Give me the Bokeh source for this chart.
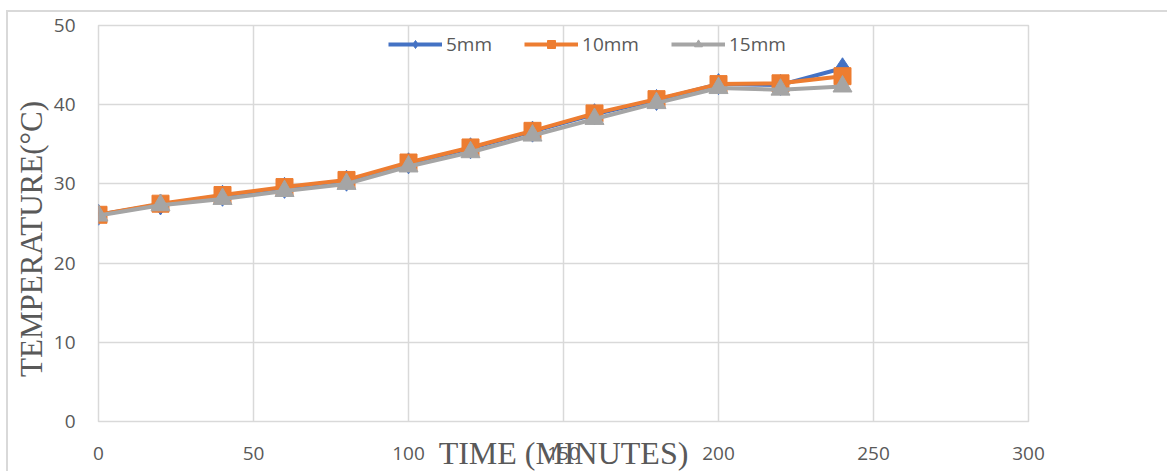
from bokeh.plotting import figure
from bokeh.models import Legend, LegendItem, FixedTicker
from bokeh.embed import file_html
from bokeh.resources import INLINE

time_min = [0, 20, 40, 60, 80, 100, 120, 140, 160, 180, 200, 220, 240]
mm5 = [26.1, 27.4, 28.5, 29.5, 30.4, 32.6, 34.5, 36.6, 38.8, 40.6, 42.6, 42.5, 44.6]
mm10 = [26.1, 27.5, 28.6, 29.6, 30.5, 32.7, 34.6, 36.7, 38.9, 40.7, 42.6, 42.7, 43.6]
mm15 = [26.0, 27.3, 28.1, 29.1, 30.0, 32.2, 34.0, 36.1, 38.2, 40.2, 42.1, 41.9, 42.3]
x_ticks = [0, 50, 100, 150, 200, 250, 300]
y_ticks = [0, 10, 20, 30, 40, 50]

BLUE = "#4472C4"
ORANGE = "#ED7D31"
GRAY = "#A5A5A5"
TXT = "#595959"
GRID = "#d9d9d9"

p = figure(width=1161, height=461, output_backend="svg", toolbar_location=None,
           x_range=(0, 300), y_range=(0, 50),
           min_border_left=90, min_border_right=141, min_border_top=13, min_border_bottom=52,
           styles={"margin-left": "6px", "margin-top": "10px",
                   "border-left": "2px solid #d9d9d9", "border-top": "2px solid #d9d9d9"})
p.outline_line_color = GRID
p.outline_line_width = 1.5

p.xaxis.ticker = FixedTicker(ticks=x_ticks)
p.yaxis.ticker = FixedTicker(ticks=y_ticks)
for ax in (p.xaxis, p.yaxis):
    ax.axis_line_color = None
    ax.major_tick_line_color = None
    ax.minor_tick_line_color = None
    ax.major_label_text_font = "Open Sans"
    ax.major_label_text_font_size = "19px"
    ax.major_label_text_color = TXT
    ax.axis_label_text_font = "Liberation Serif"
    ax.axis_label_text_font_style = "normal"
    ax.axis_label_text_color = TXT
p.xaxis.major_label_standoff = 19
p.yaxis.major_label_standoff = 17

p.yaxis.axis_label = "TEMPERATURE(°C)\u00a0\u00a0\u00a0\u00a0"
p.yaxis.axis_label_text_font_size = "31px"
p.yaxis.axis_label_text_line_height = 0.9
p.yaxis.axis_label_standoff = 2

p.xaxis.axis_label = "TIME (MINUTES)"
p.xaxis.axis_label_text_font_size = "32px"
p.xaxis.axis_label_text_line_height = 0.9
p.xaxis.axis_label_standoff = -28

p.xgrid.ticker = FixedTicker(ticks=x_ticks)
p.ygrid.ticker = FixedTicker(ticks=y_ticks)
for g in (p.xgrid, p.ygrid):
    g.grid_line_color = GRID
    g.grid_line_width = 1.5

r1l = p.line(time_min, mm5, line_color=BLUE, line_width=4)
r1m = p.scatter(time_min, mm5, marker="diamond", size=21, fill_color=BLUE, line_color=BLUE)
r2l = p.line(time_min, mm10, line_color=ORANGE, line_width=4)
r2m = p.scatter(time_min, mm10, marker="square", size=17, fill_color=ORANGE, line_color=ORANGE)
r3l = p.line(time_min, mm15, line_color=GRAY, line_width=4)
r3m = p.scatter(time_min, mm15, marker="triangle", size=19, fill_color=GRAY, line_color=GRAY)

legend = Legend(items=[
    LegendItem(label="5mm", renderers=[r1l, r1m]),
    LegendItem(label="10mm", renderers=[r2l, r2m]),
    LegendItem(label="15mm", renderers=[r3l, r3m]),
], orientation="horizontal", location=(290, 364))
legend.padding = 0
legend.margin = 0
legend.spacing = 32
legend.glyph_width = 54
legend.glyph_height = 20
legend.label_standoff = 4
legend.label_text_font = "Open Sans"
legend.label_text_font_size = "19px"
legend.label_text_color = TXT
legend.background_fill_alpha = 0
legend.border_line_color = None
p.add_layout(legend)

open("out.html", "w").write(file_html(p, INLINE))
